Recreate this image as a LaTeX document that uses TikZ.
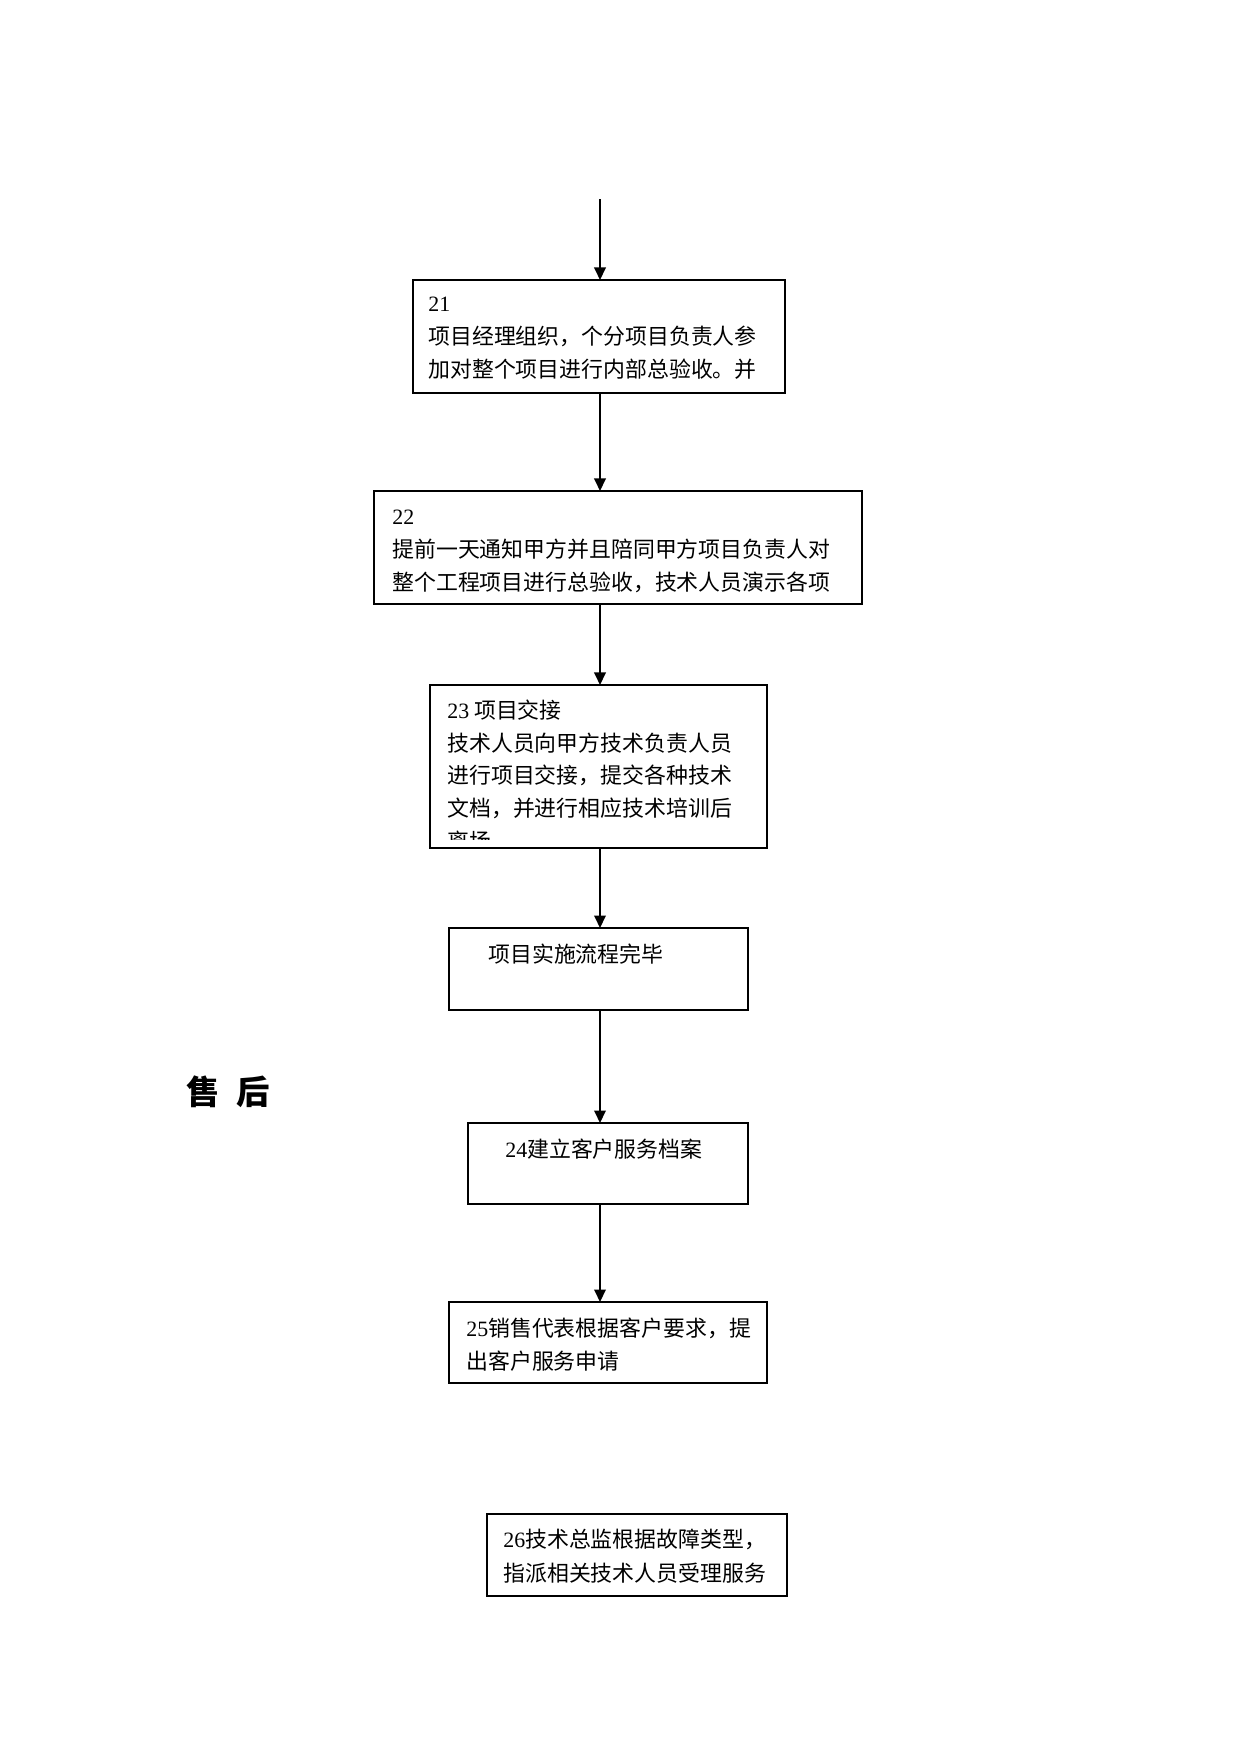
\documentclass[tikz,border=0pt]{standalone}
\usepackage{fontspec}
\setmainfont{Liberation Serif}
\newfontfamily\cjk{Noto Sans CJK SC}
\usetikzlibrary{arrows.meta}
\newcommand\bx[5]{\node[box,minimum width={(#4-#2)*0.4797pt},minimum height={(#5-#3)*0.4797pt}] (#1) at (#2,#3) {};}
\begin{document}
\begin{tikzpicture}[x=0.4797pt,y=-0.4797pt,
  box/.style={draw,line width=1pt,inner sep=0pt,outer sep=0pt,anchor=north west},
  txt/.style={inner sep=0pt,anchor=base west,align=left,font=\cjk\fontsize{10.5pt}{15.6pt}\selectfont},
  arr/.style={-{Triangle[width=5.5pt,length=6pt]},line width=1pt}]
\useasboundingbox (0,0) rectangle (1241,1754);
% boxes
\bx{b21}{413}{280}{785}{393}
\bx{b22}{374}{491}{862}{604}
\bx{b23}{430}{685}{767}{848}
\bx{bdone}{449}{928}{748}{1010}
\bx{b24}{468}{1123}{748}{1204}
\bx{b25}{449}{1302}{767}{1383}
\bx{b26}{487}{1514}{787}{1596}
% texts (anchor = baseline of the last line)
\node[txt] (t21) at (428,377) {{\rmfamily 21}\\项目经理组织，个分项目负责人参\\加对整个项目进行内部总验收。并};
\node[txt] (t22) at (392,590) {{\rmfamily 22}\\提前一天通知甲方并且陪同甲方项目负责人对\\整个工程项目进行总验收，技术人员演示各项};
\begin{scope}
\clip (430,685) rectangle (767,839);
\node[txt] (t23) at (447,849) {{\rmfamily 23} 项目交接\\技术人员向甲方技术负责人员\\进行项目交接，提交各种技术\\文档，并进行相应技术培训后\\离场};
\end{scope}
\node[txt] (tdone) at (488,962) {项目实施流程完毕};
\node[txt] (t24) at (505,1157) {{\rmfamily 24}建立客户服务档案};
\node[txt] (t25) at (466,1369) {{\rmfamily 25}销售代表根据客户要求，提\\出客户服务申请};
\node[txt,font=\cjk\fontsize{10.5pt}{16.3pt}\selectfont] (t26) at (503,1581) {{\rmfamily 26}技术总监根据故障类型，\\指派相关技术人员受理服务};
\node[inner sep=0pt,font=\cjk\bfseries\fontsize{16pt}{16pt}\selectfont] (sh) at (228,1092) {售\hspace{0.5em}后};
% arrows
\coordinate (top) at (600,199);
\draw[arr] (top) -- (b21.north -| top);
\draw[arr] (b21.south -| top) -- (b22.north -| top);
\draw[arr] (b22.south -| top) -- (b23.north -| top);
\draw[arr] (b23.south -| top) -- (bdone.north -| top);
\draw[arr] (bdone.south -| top) -- (b24.north -| top);
\draw[arr] (b24.south -| top) -- (b25.north -| top);
\end{tikzpicture}
\end{document}
